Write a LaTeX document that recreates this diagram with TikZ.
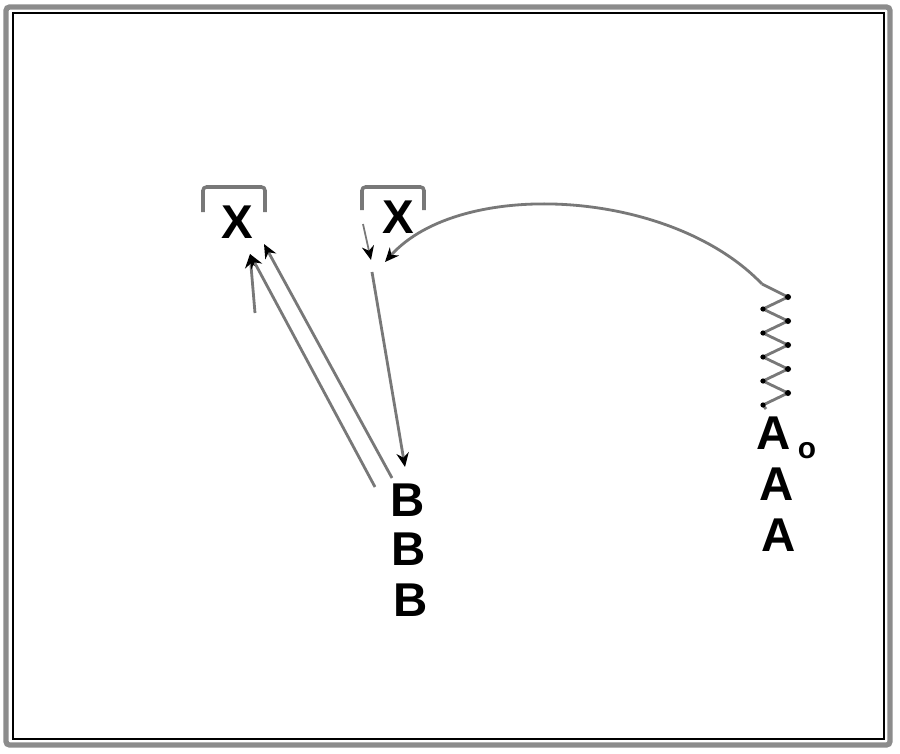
\documentclass[tikz,border=0pt]{standalone}
\usepackage{fontspec}
\setmainfont{Liberation Sans}
\usetikzlibrary{calc,arrows.meta}
\definecolor{lnGray}{RGB}{120,120,120}
\definecolor{frGray}{RGB}{140,140,140}

\begin{document}
\begin{tikzpicture}[x=0.02cm,y=-0.02cm,
  letter/.style={font=\fontsize{27}{29}\selectfont\bfseries, inner sep=0pt},
  link/.style={lnGray, line width=1.6pt, -{Stealth[length=8pt,width=7pt,black]}},
  brack/.style={lnGray, line width=2pt, rounded corners=2pt}]
\useasboundingbox (0,0) rectangle (900,754);
% Frame
\draw[frGray, line width=3pt, rounded corners=2pt] (6,7) rectangle (890,745);
\draw[black, line width=0.8pt] (13,13) rectangle (884,739);

% Left X with bracket
\node[letter] (xl) at (237,222) {X};
\draw[brack] (203,212) -- (203,187) -- (265,187) -- (265,212);

% Right X with bracket
\node[letter] (xr) at (398,217) {X};
\draw[brack] (362,210) -- (362,187) -- (424,187) -- (424,210);

% B column
\node[letter] (b1) at (408,500) {B};
\node[letter] (b2) at (409,549) {B};
\node[letter] (b3) at (411,600) {B};

% A column
\node[letter] (a1) at (774,433) {A};
\node[letter] (a2) at (777,484) {A};
\node[letter] (a3) at (779,535) {A};
\node[font=\fontsize{17}{19}\selectfont\bfseries, inner sep=0pt] (deg) at (807,451) {o};

% Ends of the connectors
\coordinate (xlTipA) at (250,254);
\coordinate (xlTipB) at (264,244);
\coordinate (xlFoot) at (255,313);
\coordinate (bl1) at (375,487);
\coordinate (bl2) at (392,478);
\coordinate (xrTip) at (385,262);
\coordinate (xrTop) at (363,224);
\coordinate (xrFoot) at (372,272);
\coordinate (bTop) at (405,467);
\coordinate (sp0) at (762,284);
\coordinate (sp1) at (766,409);

% Arrows to left X
\draw[link] (xlFoot) -- (xlTipA);
\draw[link] (bl1) -- (xlTipA);
\draw[link] (bl2) -- (xlTipB);

% Arrows at right X
\draw[link, line width=1pt] (xrTop) -- ($(xrTip)+(-14,-2)$);
\draw[link] (xrFoot) -- (bTop);
\draw[link] (sp0) .. controls (670,188) and (460,178) .. (xrTip);

% Spring
\draw[lnGray, line width=1.6pt] (sp0)
  \foreach \y in {297,321,345,369,393} { -- (788,\y) -- (763,\y+12) } -- (sp1);
\foreach \y in {297,321,345,369,393} {
    \fill (788,\y) circle (3);
    \fill (763,\y+12) circle (2.6);
}
\end{tikzpicture}
\end{document}
